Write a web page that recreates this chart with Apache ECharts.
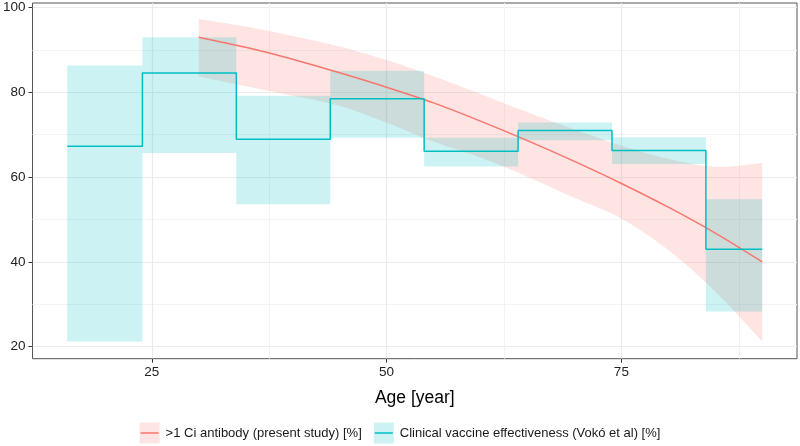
<!DOCTYPE html>
<html>
<head>
<meta charset="utf-8">
<script src="https://cdn.jsdelivr.net/npm/echarts@6/dist/echarts.min.js"></script>
<style>
html,body{margin:0;padding:0;background:#fff;}
#chart{width:800px;height:446px;}
</style>
</head>
<body>
<div id="chart"></div>
<script>
// ---- Data ----
const redAge   = [30, 35, 40, 45, 50, 55, 60, 65, 70, 75, 80, 85, 90];
const redFit   = [93.0, 90.6, 87.8, 84.6, 81.2, 77.5, 73.2, 68.6, 63.7, 58.5, 52.9, 46.8, 40.0];
const redUpper = [97.3, 95.5, 93.3, 90.8, 87.6, 83.8, 79.6, 75.3, 71.2, 67.4, 64.3, 62.4, 63.3];
const redLower = [83.7, 81.4, 79.2, 76.8, 72.8, 68.4, 64.6, 60.1, 55.1, 50.2, 42.8, 33.0, 21.2];

const vokoStart = [16, 24, 34, 44, 54, 64, 74, 84];
const vokoEnd   = [24, 34, 44, 54, 64, 74, 84, 90];
const vokoVal   = [67.3, 84.55, 68.9, 78.5, 66.1, 71.0, 66.3, 43.0];
const vokoLow   = [21.2, 65.7, 53.6, 69.3, 62.5, 68.7, 63.1, 28.3];
const vokoHigh  = [86.3, 93.0, 79.2, 85.1, 69.3, 72.9, 69.4, 54.8];

const xTicks = [25, 50, 75];
const xMinor = [37.5, 62.5, 87.5];
const yTicks = [20, 40, 60, 80, 100];
const yMinor = [30, 50, 70, 90];

const legendNames = ['>1 Ci antibody (present study) [%]', 'Clinical vaccine effectiveness (Vokó et al) [%]'];

// ---- Styles ----
const RED = '#F8766D', CYAN = '#00BFC4';
const RED_FILL = 'rgba(248,118,109,0.2)', CYAN_FILL = 'rgba(0,191,196,0.2)';
const FONT = '"Liberation Sans", Arial, sans-serif';
const X_MIN = 12.3, X_MAX = 93.7, Y_MIN = 17.17, Y_MAX = 101.06;

const chart = echarts.init(document.getElementById('chart'), null, {renderer: 'canvas'});

const redBandData = redAge.map((a, i) => [a, redLower[i], redUpper[i]]);
const redLine = redAge.map((a, i) => [a, redFit[i]]);
const boxes = vokoStart.map((s, i) => [s, vokoEnd[i], vokoLow[i], vokoHigh[i]]);
const stepPts = vokoStart.map((s, i) => [s, vokoVal[i]]);
stepPts.push([vokoEnd[vokoEnd.length - 1], vokoVal[vokoVal.length - 1]]);

// Catmull-Rom curve segments through pixel points (points already mapped via api.coord)
function curveSegs(p) {
  let d = '';
  for (let i = 0; i < p.length - 1; i++) {
    const p0 = p[Math.max(i - 1, 0)], p1 = p[i], p2 = p[i + 1], p3 = p[Math.min(i + 2, p.length - 1)];
    const c1 = [p1[0] + (p2[0] - p0[0]) / 6, p1[1] + (p2[1] - p0[1]) / 6];
    const c2 = [p2[0] - (p3[0] - p1[0]) / 6, p2[1] - (p3[1] - p1[1]) / 6];
    d += ' C' + c1[0] + ',' + c1[1] + ' ' + c2[0] + ',' + c2[1] + ' ' + p2[0] + ',' + p2[1];
  }
  return d;
}

// legend layout (centered)
const ctx = document.createElement('canvas').getContext('2d');
const LFS = 13;
ctx.font = LFS + 'px ' + FONT;
const KEY_W = 20, KEY_H = 21, GAP = 6, SPACING = 12;
const w1 = ctx.measureText(legendNames[0]).width;
const w2 = ctx.measureText(legendNames[1]).width;
const total = KEY_W + GAP + w1 + SPACING + KEY_W + GAP + w2;
let lx = 400 - total / 2;
const LY = 433;
const legendGraphics = [];
[[RED, RED_FILL, legendNames[0], w1], [CYAN, CYAN_FILL, legendNames[1], w2]].forEach(([c, f, t, w]) => {
  legendGraphics.push({type: 'rect', shape: {x: lx, y: LY - KEY_H / 2, width: KEY_W, height: KEY_H}, style: {fill: f}});
  legendGraphics.push({type: 'line', shape: {x1: lx + 1, y1: LY, x2: lx + KEY_W - 1, y2: LY}, style: {stroke: c, lineWidth: 1.5}});
  legendGraphics.push({type: 'text', x: lx + KEY_W + GAP, y: LY, style: {text: t, font: LFS + 'px ' + FONT, fill: '#1a1a1a', verticalAlign: 'middle', textAlign: 'left'}});
  lx += KEY_W + GAP + w + SPACING;
});

const option = {
  animation: false,
  backgroundColor: '#fff',
  grid: {left: 31, right: 3, top: 3, bottom: 87.3, show: true, borderColor: '#555', borderWidth: 1, backgroundColor: 'transparent', containLabel: false},
  xAxis: [{
    type: 'value', min: X_MIN, max: X_MAX,
    name: 'Age [year]', nameLocation: 'middle', nameGap: 30,
    nameTextStyle: {fontFamily: FONT, fontSize: 17.5, color: '#000'},
    axisLine: {show: false},
    axisTick: {show: true, customValues: xTicks, length: 4, lineStyle: {color: '#333'}},
    axisLabel: {customValues: xTicks, fontFamily: FONT, fontSize: 13.5, color: '#222', margin: 7},
    splitLine: {show: true, lineStyle: {color: '#EBEBEB', width: 1.2}}
  }, {
    type: 'value', min: X_MIN, max: X_MAX, position: 'bottom',
    axisLine: {show: false}, axisLabel: {show: false},
    axisTick: {show: false, customValues: xMinor},
    splitLine: {show: true, lineStyle: {color: '#F3F3F3', width: 1}}
  }],
  yAxis: [{
    type: 'value', min: Y_MIN, max: Y_MAX,
    axisLine: {show: false},
    axisTick: {show: true, customValues: yTicks, length: 4, lineStyle: {color: '#333'}},
    axisLabel: {customValues: yTicks, fontFamily: FONT, fontSize: 13.5, color: '#222', margin: 7},
    splitLine: {show: true, lineStyle: {color: '#EBEBEB', width: 1.2}}
  }, {
    type: 'value', min: Y_MIN, max: Y_MAX, position: 'left',
    axisLine: {show: false}, axisLabel: {show: false},
    axisTick: {show: false, customValues: yMinor},
    splitLine: {show: true, lineStyle: {color: '#F3F3F3', width: 1}}
  }],
  series: [
    {
      type: 'custom', name: 'redBand', data: redBandData, z: 1, silent: true,
      renderItem: function (params, api) {
        if (params.dataIndex !== 0) return null;
        const up = redBandData.map(r => api.coord([r[0], r[2]]));
        const lo = redBandData.map(r => api.coord([r[0], r[1]])).reverse();
        const d = 'M' + up[0][0] + ',' + up[0][1] + curveSegs(up) +
                  ' L' + lo[0][0] + ',' + lo[0][1] + curveSegs(lo) + ' Z';
        return {type: 'path', shape: {pathData: d}, style: {fill: RED_FILL}};
      }
    },
    {
      type: 'custom', name: 'vokoBoxes', data: boxes, z: 2, silent: true,
      renderItem: function (params, api) {
        const p0 = api.coord([api.value(0), api.value(3)]);
        const p1 = api.coord([api.value(1), api.value(2)]);
        return {type: 'rect', shape: {x: p0[0], y: p0[1], width: p1[0] - p0[0], height: p1[1] - p0[1]}, style: {fill: CYAN_FILL}};
      }
    },
    {
      type: 'line', name: legendNames[0], data: redLine, smooth: 0.3, symbol: 'none',
      lineStyle: {color: RED, width: 1.5}, z: 3
    },
    {
      type: 'line', name: legendNames[1], data: stepPts, step: 'end', symbol: 'none',
      lineStyle: {color: CYAN, width: 1.5}, z: 4
    }
  ],
  graphic: legendGraphics
};
chart.setOption(option);
</script>
</body>
</html>
